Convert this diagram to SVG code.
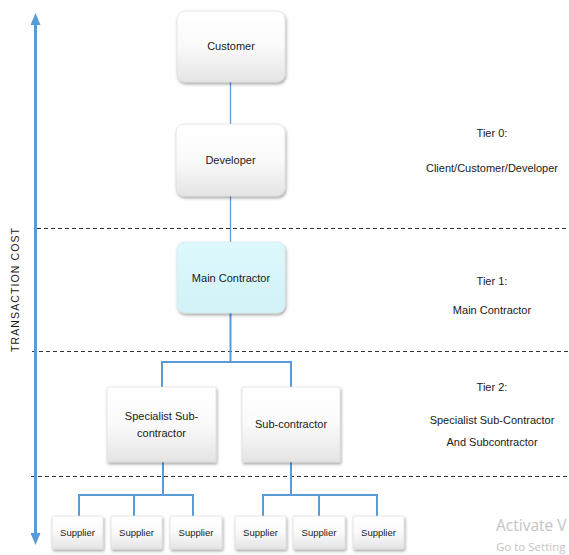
<svg xmlns="http://www.w3.org/2000/svg" width="569" height="555" viewBox="0 0 569 555">
  <style>
    .lbl { font-family: "Liberation Sans", Arial, sans-serif; font-size: 11px; fill: #1a1a1a; text-anchor: middle; }
    .sm { font-size: 9.5px; }
    .card { fill: url(#gWhite); stroke: #d6d6d6; stroke-width: 0.6; filter: url(#shadow); }
    .cardMain { fill: url(#gCyan); stroke: #cfe4e8; stroke-width: 0.6; filter: url(#shadow); }
    .link { fill: none; stroke: #5b9bd5; stroke-width: 2; }
    .thin { stroke-width: 1.3; }
    .tier { fill: none; stroke: #333; stroke-width: 1; stroke-dasharray: 4 3; }
    .axis { stroke: #5b9bd5; stroke-width: 3; }
    .note { font-family: "Liberation Sans", Arial, sans-serif; font-size: 11px; fill: #1a1a1a; text-anchor: middle; }
    .wm { font-family: "Open Sans", "Liberation Sans", sans-serif; fill: #c4c4c4; }
  </style>
  <defs>
    <linearGradient id="gWhite" x1="0" y1="0" x2="0" y2="1">
      <stop offset="0" stop-color="#ffffff"/>
      <stop offset="0.5" stop-color="#fafafa"/>
      <stop offset="1" stop-color="#e4e4e4"/>
    </linearGradient>
    <linearGradient id="gCyan" x1="0" y1="0" x2="0" y2="1">
      <stop offset="0" stop-color="#dcf9fd"/>
      <stop offset="1" stop-color="#d2f2f7"/>
    </linearGradient>
    <filter id="shadow" x="-10%" y="-10%" width="125%" height="130%">
      <feDropShadow dx="1" dy="2" stdDeviation="1.4" flood-color="#000" flood-opacity="0.35"/>
    </filter>
    <marker id="head" viewBox="0 0 12 10" refX="2" refY="5" markerWidth="12" markerHeight="10" markerUnits="userSpaceOnUse" orient="auto-start-reverse">
      <path d="M0,0 L12,5 L0,10 Z" fill="#5b9bd5"/>
    </marker>
  </defs>

  <!-- tier separators -->
  <g id="tiers">
    <line class="tier" x1="37" y1="228.5" x2="569" y2="228.5"/>
    <line class="tier" x1="32" y1="351.5" x2="569" y2="351.5"/>
    <line class="tier" x1="31" y1="476.5" x2="569" y2="476.5"/>
  </g>

  <!-- transaction cost axis -->
  <g id="axis">
    <line class="axis" x1="35.5" y1="23" x2="35.5" y2="535" marker-start="url(#head)" marker-end="url(#head)"/>
    <text transform="translate(19,290) rotate(-90)" font-family="Liberation Sans, Arial, sans-serif" font-size="10.5" fill="#1a1a1a" text-anchor="middle" textLength="124" lengthAdjust="spacing">TRANSACTION COST</text>
  </g>

  <!-- connectors -->
  <g id="connectors">
    <line class="link thin" x1="230.5" y1="82" x2="230.5" y2="124"/>
    <line class="link thin" x1="230.5" y1="196" x2="230.5" y2="242"/>
    <path class="link" d="M230.5,313 V362 M162,387 V362 H291 V387"/>
    <path class="link" d="M163,462 V495 M79,516 V495 H193 V516 M134,495 V516"/>
    <path class="link" d="M291,462 V495 M263,516 V495 H377 V516 M319,495 V516"/>
  </g>

  <g id="customer">
    <rect class="card" x="177" y="11" width="108" height="71" rx="8"/>
    <text class="lbl" x="231" y="50">Customer</text>
  </g>
  <g id="developer">
    <rect class="card" x="176" y="124" width="109" height="72" rx="8"/>
    <text class="lbl" x="230.5" y="164">Developer</text>
  </g>
  <g id="main-contractor">
    <rect class="cardMain" x="177" y="242" width="108" height="71" rx="8"/>
    <text class="lbl" x="231" y="282">Main Contractor</text>
  </g>
  <g id="specialist-subcontractor">
    <rect class="card" x="107" y="387" width="109" height="75" rx="1"/>
    <text class="lbl" x="161.5" y="420">Specialist Sub-</text>
    <text class="lbl" x="161.5" y="437">contractor</text>
  </g>
  <g id="subcontractor">
    <rect class="card" x="242" y="387" width="98" height="75" rx="1"/>
    <text class="lbl" x="291" y="428">Sub-contractor</text>
  </g>

  <g id="supplier-1"><rect class="card" x="52" y="516" width="51" height="33" rx="1"/><text class="lbl sm" x="77.5" y="536">Supplier</text></g>
  <g id="supplier-2"><rect class="card" x="111" y="516" width="51" height="33" rx="1"/><text class="lbl sm" x="136.5" y="536">Supplier</text></g>
  <g id="supplier-3"><rect class="card" x="170" y="516" width="52" height="33" rx="1"/><text class="lbl sm" x="196" y="536">Supplier</text></g>
  <g id="supplier-4"><rect class="card" x="235" y="516" width="51" height="33" rx="1"/><text class="lbl sm" x="260.5" y="536">Supplier</text></g>
  <g id="supplier-5"><rect class="card" x="293" y="516" width="52" height="33" rx="1"/><text class="lbl sm" x="319" y="536">Supplier</text></g>
  <g id="supplier-6"><rect class="card" x="353" y="516" width="51" height="33" rx="1"/><text class="lbl sm" x="378.5" y="536">Supplier</text></g>

  <!-- tier descriptions -->
  <g id="tier-notes">
    <text class="note" x="492" y="137">Tier 0:</text>
    <text class="note" x="492" y="172">Client/Customer/Developer</text>
    <text class="note" x="492" y="285">Tier 1:</text>
    <text class="note" x="492" y="314">Main Contractor</text>
    <text class="note" x="492" y="391">Tier 2:</text>
    <text class="note" x="492" y="424">Specialist Sub-Contractor</text>
    <text class="note" x="492" y="446">And Subcontractor</text>
  </g>

  <!-- system watermark -->
  <g id="watermark">
    <text class="wm" x="496" y="531" font-size="15.5">Activate V</text>
    <text class="wm" x="496" y="551" font-size="11.5">Go to Setting</text>
  </g>
</svg>
